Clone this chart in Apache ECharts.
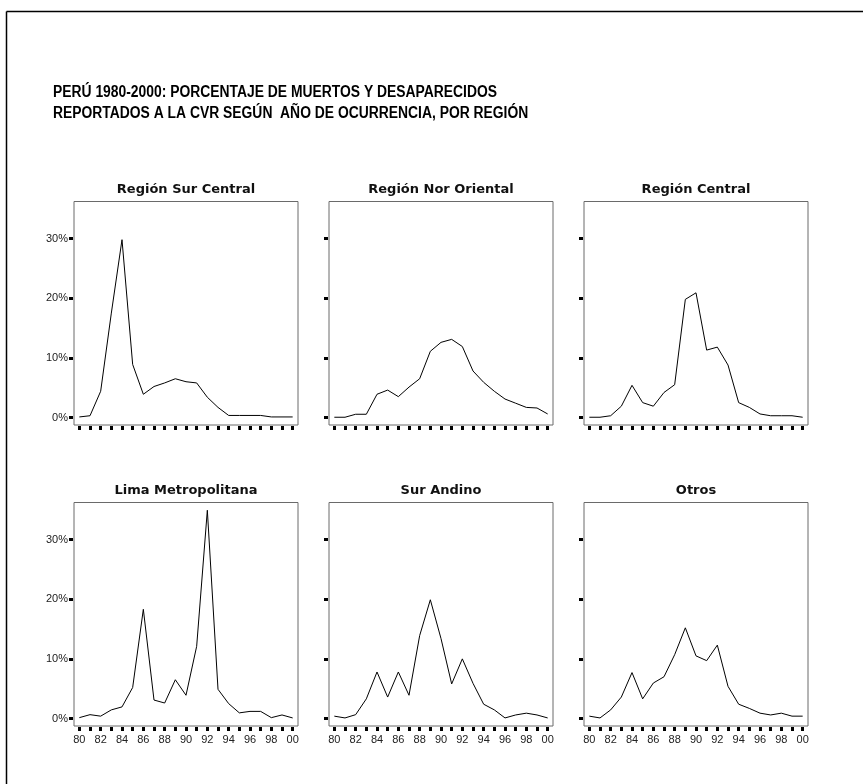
<!DOCTYPE html>
<html><head><meta charset="utf-8">
<script src="https://cdn.jsdelivr.net/npm/echarts@6/dist/echarts.min.js"></script>
<style>html,body{margin:0;padding:0;background:#fff}#c{width:863px;height:784px}</style>
</head><body><div id="c"></div>
<script>
const years = ['80','81','82','83','84','85','86','87','88','89','90','91','92','93','94','95','96','97','98','99','00'];
const surCentral   = [0.1,0.3,4.4,17.5,29.8,8.9,3.9,5.2,5.8,6.5,6.0,5.8,3.4,1.7,0.35,0.35,0.35,0.35,0.1,0.1,0.1];
const norOriental  = [0.05,0.05,0.55,0.55,3.9,4.6,3.5,5.1,6.5,11.1,12.6,13.1,11.9,7.8,5.9,4.4,3.1,2.4,1.7,1.6,0.6];
const central      = [0.05,0.05,0.3,1.9,5.4,2.5,1.9,4.2,5.5,19.8,20.9,11.3,11.8,8.8,2.5,1.7,0.6,0.3,0.3,0.3,0.05];
const limaMetro    = [0.15,0.65,0.4,1.45,1.95,5.2,18.3,3.1,2.6,6.5,3.9,12.1,34.9,4.9,2.5,0.95,1.2,1.2,0.15,0.6,0.1];
const surAndino    = [0.4,0.1,0.65,3.3,7.8,3.6,7.8,3.9,13.9,19.9,13.4,5.8,10.0,5.9,2.4,1.45,0.1,0.6,0.9,0.6,0.1];
const otros        = [0.4,0.1,1.45,3.6,7.7,3.3,5.95,7.0,10.7,15.2,10.5,9.7,12.3,5.4,2.4,1.7,0.9,0.6,0.9,0.4,0.4];
const panelTitles  = ['Región Sur Central','Región Nor Oriental','Región Central','Lima Metropolitana','Sur Andino','Otros'];
const panelSeries  = [surCentral, norOriental, central, limaMetro, surAndino, otros];
const yTickValues  = [0,10,20,30];
const titleLines   = ['PERÚ 1980-2000: PORCENTAJE DE MUERTOS Y DESAPARECIDOS','REPORTADOS A LA CVR SEGÚN  AÑO DE OCURRENCIA, POR REGIÓN'];

const colLeft = [74, 329, 584];
const rowTop = [201.5, 502.5];
const pw = 224, ph = 223.5;
const titleY = [190, 491];

const grid = [], xAxis = [], yAxis = [], series = [], graphic = [];
panelSeries.forEach((data, i) => {
  const r = Math.floor(i / 3), c = i % 3;
  grid.push({left: colLeft[c], top: rowTop[r], width: pw, height: ph, show: true,
    borderColor: '#6a6a6a', borderWidth: 1, backgroundColor: 'transparent', containLabel: false});
  xAxis.push({type: 'category', gridIndex: i, data: years, boundaryGap: true, offset: 1, position: 'bottom',
    axisLine: {show: false, onZero: false},
    axisTick: {show: true, alignWithLabel: true, interval: 0, length: 4, lineStyle: {color: '#000', width: 3}},
    axisLabel: {show: r === 1, interval: 1, margin: 7, color: '#222', fontSize: 11, fontFamily: 'Liberation Sans, Arial, sans-serif'},
    splitLine: {show: false}});
  yAxis.push({type: 'value', gridIndex: i, min: -1.25, max: 36.2, offset: 1,
    axisLine: {show: false, onZero: false},
    axisTick: {show: true, length: 4, customValues: yTickValues, lineStyle: {color: '#000', width: 3}},
    axisLabel: {show: c === 0, customValues: yTickValues, margin: 5, color: '#222', fontSize: 11,
      fontFamily: 'Liberation Sans, Arial, sans-serif', formatter: v => v + '%'},
    splitLine: {show: false}});
  series.push({type: 'line', xAxisIndex: i, yAxisIndex: i, data: data, showSymbol: false, symbol: 'none',
    lineStyle: {color: '#000', width: 1}, animation: false, silent: true});
  graphic.push({type: 'text', x: colLeft[c] + pw / 2, y: titleY[r],
    style: {text: panelTitles[i], textAlign: 'center', textVerticalAlign: 'middle',
      font: 'bold 13px "DejaVu Sans", Verdana, sans-serif', fill: '#111'}});
});
titleLines.forEach((t, k) => {
  graphic.push({type: 'text', x: 53, y: 92.7 + k * 20.6, scaleX: 0.867,
    style: {text: t, textAlign: 'left', textVerticalAlign: 'middle',
      font: 'bold 16px "Liberation Sans", Arial, sans-serif', fill: '#000'}});
});
graphic.push({type: 'line', shape: {x1: 6.5, y1: 11.5, x2: 863, y2: 11.5}, style: {stroke: '#000', lineWidth: 1.5}});
graphic.push({type: 'line', shape: {x1: 6.5, y1: 11.5, x2: 6.5, y2: 784}, style: {stroke: '#000', lineWidth: 1.5}});

const chart = echarts.init(document.getElementById('c'), null, {renderer: 'canvas'});
chart.setOption({animation: false, backgroundColor: '#fff', grid, xAxis, yAxis, series, graphic});
</script></body></html>
